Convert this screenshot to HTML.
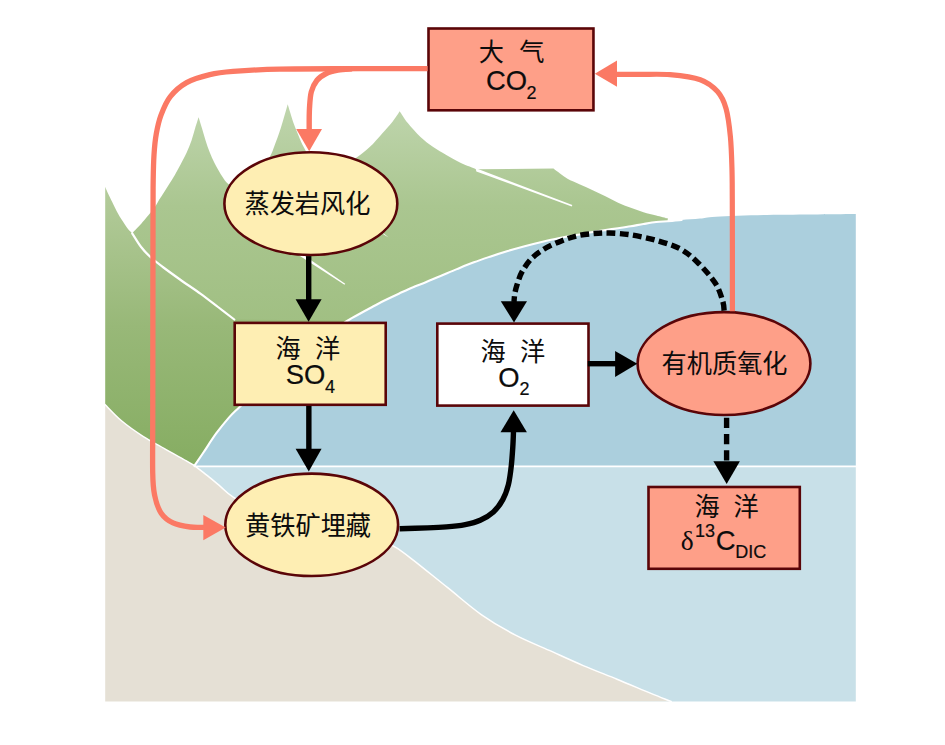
<!DOCTYPE html>
<html><head><meta charset="utf-8"><title>diagram</title>
<style>html,body{margin:0;padding:0;background:#fff;}body{width:945px;height:745px;overflow:hidden;font-family:"Liberation Sans",sans-serif;}svg{display:block;}</style>
</head><body>
<svg width="945" height="745" viewBox="0 0 945 745">
<defs>
<linearGradient id="mg1" gradientUnits="userSpaceOnUse" x1="0" y1="105" x2="0" y2="330"><stop offset="0" stop-color="#bfd5ad"/><stop offset="0.45" stop-color="#aac690"/><stop offset="1" stop-color="#a0bf82"/></linearGradient>
<linearGradient id="mg2" gradientUnits="userSpaceOnUse" x1="0" y1="186" x2="0" y2="466"><stop offset="0" stop-color="#b4cc9c"/><stop offset="0.5" stop-color="#98b878"/><stop offset="1" stop-color="#86ad62"/></linearGradient>
</defs>
<rect width="945" height="745" fill="#fff"/>
<g>
<path d="M857.8,214.1 C851.1,214.2 832.9,214.3 817.8,214.4 C802.7,214.5 784,214.5 767,214.9 C750,215.3 727.2,216.1 716,216.7 C704.8,217.3 705.7,218 700,218.6 C694.3,219.2 687,219.6 681.6,220 C676.2,220.4 671.8,220.9 667.6,221.2 C663.4,221.5 660.2,221.5 656.2,222 C652.2,222.5 647.7,223.3 643.5,224 C639.3,224.7 635,225.6 630.8,226.3 C626.6,227 622.3,227.6 618.1,228.2 C613.9,228.8 609.6,229.5 605.4,230.1 C601.2,230.7 596.9,231.3 592.7,232 C588.5,232.7 583.4,233.9 580,234.5 C576.6,235.1 575.7,235.2 572.1,235.8 C568.5,236.4 563.6,237.3 558.5,238.3 C553.4,239.3 547.2,240.7 541.6,242 C536,243.3 530.4,244.7 524.7,246.2 C519.1,247.7 513.4,249.3 507.7,251 C502,252.7 496.4,254.5 490.8,256.4 C485.2,258.3 479.5,260.2 473.9,262.3 C468.2,264.4 462.5,266.8 456.9,269.1 C451.2,271.4 445.1,274.1 440,276.2 C434.9,278.3 430.9,280.1 426.3,282 C421.7,283.9 417.1,285.6 412.5,287.5 C407.9,289.4 403.4,291.6 398.8,293.7 C394.2,295.8 389.6,298 385,300.3 C380.4,302.6 375.9,305.1 371.3,307.5 C366.7,309.9 361.4,312.8 357.5,315 C353.6,317.2 354.5,316.3 347.9,320.5 C341.3,324.7 328,332.9 318,340 C308,347.1 297.3,355.3 288,363 C278.7,370.7 270.1,378.7 262,386 C253.9,393.3 245.1,401.6 239.6,406.9 C234.1,412.2 232.8,413.1 228.9,417.6 C225,422.1 220.3,427.8 216,433.7 C211.7,439.6 206.7,447.7 203.1,453 C199.5,458.3 195.9,463.6 194.5,465.7 L194.5,466.3 L857.8,466.3 Z" fill="#abcfdd"/>
<path d="M192.5,466.3 L857.8,466.3 L857.8,703.6 L105.2,703.6 Z" fill="#c8e0e8"/>
<path d="M477,169.3 L553.5,168.6 C554.6,169.4 557.7,171.9 560,173.6 C562.3,175.3 564.2,177 567.5,178.8 C570.8,180.6 575.8,182.6 580,184.5 C584.2,186.4 588.5,188.2 592.7,190.2 C596.9,192.2 601.2,194.2 605.4,196.3 C609.6,198.4 613.9,200.8 618.1,202.7 C622.3,204.6 626.6,206.2 630.8,207.8 C635,209.4 639.3,210.9 643.5,212.2 C647.7,213.5 652.2,214.4 656.2,215.4 C660.2,216.4 665.9,217.8 667.8,218.3 L620,221 L560,226 L470,200 Z" fill="url(#mg1)"/>
<path d="M132.2,233.3 C133.5,231.9 137.2,228.3 140.3,224.8 C143.4,221.3 148.1,215.6 150.7,212.5 C153.2,209.4 154.2,208.1 155.6,206 C157,203.9 157.8,201.9 159,200 C160.2,198.1 161,197 162.6,194.5 C164.2,192 166.6,188.1 168.6,184.9 C170.6,181.7 172.7,178.6 174.7,175.2 C176.7,171.8 178.7,168.1 180.7,164.3 C182.7,160.5 185,156.3 186.8,152.3 C188.6,148.3 190.2,144.2 191.6,140.2 C193,136.2 194,131.9 195.2,128.1 C196.4,124.3 198,119.1 198.6,117.3 C199.2,119.1 200.8,124.3 201.9,128.1 C203.1,131.9 204.2,136.2 205.5,140.2 C206.8,144.2 208.2,148.5 209.7,152.3 C211.2,156.1 212.7,159.5 214.5,163.1 C216.3,166.7 218.6,170.8 220.6,174 C222.6,177.2 224.5,180.3 226.6,182.5 C228.7,184.7 231.9,186.2 233,187 C235,186 240.8,183.8 245,181 C249.2,178.2 253.9,173.9 258,170 C262.1,166.1 266.7,161.3 269.4,157.3 C272.1,153.3 272.5,150.8 274.4,145.9 C276.3,141 278.6,135 280.8,128.1 C283,121.2 286.6,108.3 287.7,104.3 C288.7,107.4 291.7,117.8 293.5,123 C295.3,128.2 296.9,131.7 298.6,135.7 C300.3,139.7 301.5,143 303.7,147.1 C305.9,151.2 308.3,156.2 312,160 C315.7,163.8 321.3,168.7 326,170 C330.7,171.3 337.7,168.3 340,168 C342.8,166.2 352.1,160.8 357,157.3 C361.9,153.8 365.5,151.1 369.7,147.1 C373.9,143.1 378.6,137.4 382.4,133.2 C386.2,129 389.6,125.4 392.5,121.7 C395.4,118 398.5,113 399.7,111.2 C401.1,113.2 404.3,118.7 407.8,123 C411.3,127.3 416.3,133 420.5,137 C424.7,141 429,144.1 433.2,147.1 C437.4,150.1 441.4,152.2 445.9,154.8 C450.4,157.4 455.2,160.4 460.4,162.8 C465.6,165.2 474.2,168.4 477,169.5 C484.2,172.2 504.3,180 520,186 C535.7,192 554.6,200.8 571.3,205.6 C588,210.4 603.9,212.9 620,215 C636.1,217.1 659.8,217.8 667.8,218.3 L667.6,221.2 C665.7,221.3 660.2,221.5 656.2,222 C652.2,222.5 647.7,223.3 643.5,224 C639.3,224.7 635,225.6 630.8,226.3 C626.6,227 622.3,227.6 618.1,228.2 C613.9,228.8 609.6,229.5 605.4,230.1 C601.2,230.7 596.9,231.3 592.7,232 C588.5,232.7 583.4,233.9 580,234.5 C576.6,235.1 575.7,235.2 572.1,235.8 C568.5,236.4 563.6,237.3 558.5,238.3 C553.4,239.3 547.2,240.7 541.6,242 C536,243.3 530.4,244.7 524.7,246.2 C519.1,247.7 513.4,249.3 507.7,251 C502,252.7 496.4,254.5 490.8,256.4 C485.2,258.3 479.5,260.2 473.9,262.3 C468.2,264.4 462.5,266.8 456.9,269.1 C451.2,271.4 445.1,274.1 440,276.2 C434.9,278.3 430.9,280.1 426.3,282 C421.7,283.9 417.1,285.6 412.5,287.5 C407.9,289.4 403.4,291.6 398.8,293.7 C394.2,295.8 389.6,298 385,300.3 C380.4,302.6 375.9,305.1 371.3,307.5 C366.7,309.9 361.4,312.8 357.5,315 C353.6,317.2 354.5,316.3 347.9,320.5 C341.3,324.7 328,332.9 318,340 C308,347.1 297.3,355.3 288,363 C278.7,370.7 270.1,378.7 262,386 C253.9,393.3 245.1,401.6 239.6,406.9 C234.1,412.2 232.8,413.1 228.9,417.6 C225,422.1 220.3,427.8 216,433.7 C211.7,439.6 206.7,447.7 203.1,453 C199.5,458.3 195.9,463.6 194.5,465.7 L104.2,470 L104.2,233 Z" fill="url(#mg1)"/>
<path d="M104.2,185 C104.4,185.4 103.9,184.4 105.2,187.2 C106.5,190 109.9,197.3 112.1,201.7 C114.2,206.1 116.1,210.2 118.1,213.8 C120.1,217.4 122.5,220.9 124.2,223.5 C125.9,226.1 126.9,227.7 128.2,229.3 C129.5,230.9 131.5,232.6 132.2,233.3 C133.7,235.6 138,243 141.1,247 C144.2,251 147.1,254 150.7,257.3 C154.3,260.6 157.9,263.3 162.8,267 C167.7,270.7 173.7,275 180,279.5 C186.3,284 194.4,289.2 200.7,293.8 C207,298.4 212.4,302.7 218,307 C223.6,311.3 231.6,317.4 234.3,319.5 L347.9,320.5 C342.9,323.8 328,332.9 318,340 C308,347.1 297.3,355.3 288,363 C278.7,370.7 270.1,378.7 262,386 C253.9,393.3 245.1,401.6 239.6,406.9 C234.1,412.2 232.8,413.1 228.9,417.6 C225,422.1 220.3,427.8 216,433.7 C211.7,439.6 206.7,447.7 203.1,453 C199.5,458.3 195.9,463.6 194.5,465.7 L104.2,470 Z" fill="url(#mg2)"/>
<path d="M104.2,403.6 C104.4,403.8 102.3,401.8 105.2,404.7 C108.1,407.6 115.2,415.5 121.5,420.8 C127.8,426.1 135.8,431.7 143,436.3 C150.2,440.9 157.2,444.6 164.4,448.7 C171.6,452.8 180.9,457.8 185.9,460.6 C190.9,463.4 193.1,464.9 194.5,465.7 C196.7,467.4 203.1,472.2 207.4,475.6 C211.7,479 216,482.7 220.3,486.3 C224.6,489.9 226.2,492.8 233.2,497.1 C240.1,501.4 250.9,508 262,512 C273.1,516 287,518.3 300,521 C313,523.7 328,525.5 340,528 C352,530.5 362.8,532.8 372,536 C381.2,539.2 388.2,543 395.2,547.1 C402.2,551.2 405.1,553.8 413.9,560.6 C422.6,567.4 436.4,578.7 447.7,587.7 C459,596.7 470.3,606.9 481.6,614.8 C492.9,622.7 504.2,629.2 515.5,635.1 C526.8,641 538,645.3 549.3,650.4 C560.6,655.5 571.9,660.8 583.2,665.6 C594.5,670.4 605.7,674.6 617,679.2 C628.3,683.8 641.9,689.7 650.9,693.4 C659.9,697.1 667.8,700.1 671.2,701.5 L104.2,703.6 Z" fill="#e5e0d5"/>
<g fill="none" stroke="#fff" stroke-width="1.6" stroke-linecap="round">
<path d="M194.5,466.3 L857.8,466.3" stroke-width="1.7"/>
<path d="M681.6,220 C679.3,220.2 671.8,220.9 667.6,221.2 C663.4,221.5 660.2,221.5 656.2,222 C652.2,222.5 647.7,223.3 643.5,224 C639.3,224.7 635,225.6 630.8,226.3 C626.6,227 622.3,227.6 618.1,228.2 C613.9,228.8 609.6,229.5 605.4,230.1 C601.2,230.7 596.9,231.3 592.7,232 C588.5,232.7 583.4,233.9 580,234.5 C576.6,235.1 575.7,235.2 572.1,235.8 C568.5,236.4 563.6,237.3 558.5,238.3 C553.4,239.3 547.2,240.7 541.6,242 C536,243.3 530.4,244.7 524.7,246.2 C519.1,247.7 513.4,249.3 507.7,251 C502,252.7 496.4,254.5 490.8,256.4 C485.2,258.3 479.5,260.2 473.9,262.3 C468.2,264.4 462.5,266.8 456.9,269.1 C451.2,271.4 445.1,274.1 440,276.2 C434.9,278.3 430.9,280.1 426.3,282 C421.7,283.9 417.1,285.6 412.5,287.5 C407.9,289.4 403.4,291.6 398.8,293.7 C394.2,295.8 389.6,298 385,300.3 C380.4,302.6 375.9,305.1 371.3,307.5 C366.7,309.9 361.4,312.8 357.5,315 C353.6,317.2 354.5,316.3 347.9,320.5 C341.3,324.7 328,332.9 318,340 C308,347.1 297.3,355.3 288,363 C278.7,370.7 270.1,378.7 262,386 C253.9,393.3 245.1,401.6 239.6,406.9 C234.1,412.2 232.8,413.1 228.9,417.6 C225,422.1 220.3,427.8 216,433.7 C211.7,439.6 206.7,447.7 203.1,453 C199.5,458.3 195.9,463.6 194.5,465.7" stroke-width="2.1"/>
<path d="M132.2,233.3 C133.7,235.6 138,243 141.1,247 C144.2,251 147.1,254 150.7,257.3 C154.3,260.6 157.9,263.3 162.8,267 C167.7,270.7 173.7,275 180,279.5 C186.3,284 194.4,289.2 200.7,293.8 C207,298.4 212.4,302.7 218,307 C223.6,311.3 231.6,317.4 234.3,319.5" stroke-width="2.2"/>
<path d="M104.2,403.6 C104.4,403.8 102.3,401.8 105.2,404.7 C108.1,407.6 115.2,415.5 121.5,420.8 C127.8,426.1 135.8,431.7 143,436.3 C150.2,440.9 157.2,444.6 164.4,448.7 C171.6,452.8 180.9,457.8 185.9,460.6 C190.9,463.4 193.1,464.9 194.5,465.7" stroke-width="1.5"/>
<path d="M194.5,465.7 C196.7,467.4 203.1,472.2 207.4,475.6 C211.7,479 216,482.7 220.3,486.3 C224.6,489.9 226.2,492.8 233.2,497.1 C240.1,501.4 250.9,508 262,512 C273.1,516 287,518.3 300,521 C313,523.7 328,525.5 340,528 C352,530.5 362.8,532.8 372,536 C381.2,539.2 388.2,543 395.2,547.1 C402.2,551.2 405.1,553.8 413.9,560.6 C422.6,567.4 436.4,578.7 447.7,587.7 C459,596.7 470.3,606.9 481.6,614.8 C492.9,622.7 504.2,629.2 515.5,635.1 C526.8,641 538,645.3 549.3,650.4 C560.6,655.5 571.9,660.8 583.2,665.6 C594.5,670.4 605.7,674.6 617,679.2 C628.3,683.8 641.9,689.7 650.9,693.4 C659.9,697.1 667.8,700.1 671.2,701.5" stroke-width="1.5"/>
</g>
<g fill="#fff">
<path d="M475.4,167.9 L572.3,205.1 L571.7,206.6 L476.4,171.4 Z"/>
<path d="M300,252.6 L345.2,283.7 L344.5,284.8 L298.8,255.2 Z"/>
<path d="M382.6,232.6 L388.6,237.6 L383.6,234.6 Z"/>
</g>
</g>
<path d="M0,0 H105.2 V701.6 H855.8 V0 H945 V745 H0 Z" fill="#fff"/>
<rect x="428.50" y="28.50" width="164.95" height="81.80" fill="#fe9f88" stroke="#5a0508" stroke-width="2.60"/>
<ellipse cx="310.85" cy="203.65" rx="86.45" ry="51.35" fill="#feeeb3" stroke="#5a0508" stroke-width="2.60"/>
<rect x="234.70" y="322.90" width="151.00" height="81.90" fill="#feeeb3" stroke="#5a0508" stroke-width="2.60"/>
<rect x="437.30" y="323.60" width="151.20" height="82.00" fill="#fff" stroke="#5a0508" stroke-width="2.60"/>
<ellipse cx="724.00" cy="363.55" rx="86.40" ry="51.45" fill="#fe9f88" stroke="#5a0508" stroke-width="2.60"/>
<ellipse cx="311.70" cy="524.80" rx="86.40" ry="51.20" fill="#feeeb3" stroke="#5a0508" stroke-width="2.60"/>
<rect x="648.50" y="487.00" width="151.30" height="81.80" fill="#fe9f88" stroke="#5a0508" stroke-width="2.60"/>
<g fill="none" stroke="#fb7964" stroke-width="5.3">
<path d="M427.6,68.7 C416.3,68.7 384.6,68.6 360,68.7 C335.4,68.8 300.8,68.6 279.7,69.1 C258.6,69.5 244.8,70.5 233.1,71.4 C221.4,72.3 217.6,72.7 209.8,74.6 C202.1,76.5 193.2,78.9 186.6,82.6 C180,86.3 174.6,91.2 170.3,96.6 C166,102 163.3,109 161,115.2 C158.7,121.4 157.5,127.2 156.3,133.8 C155.1,140.4 154.5,147.1 154,154.8 C153.5,162.5 153.4,167.5 153.2,180 C153,192.5 153.1,193.3 153,230 C152.9,266.7 152.9,359.6 152.8,400 C152.8,440.4 152.4,456.4 152.7,472.4 C153,488.4 153.4,489.2 154.8,496 C156.2,502.8 158.2,508.7 161.2,513.2 C164.2,517.7 168.2,520.6 173,522.9 C177.8,525.2 185,526.3 190.2,527 C195.4,527.7 201.7,527.2 204,527.3"/>
<path d="M352,68.9 C349.7,69.1 342.3,69.4 338,70.2 C333.7,71 329.8,71.8 326.3,73.5 C322.8,75.2 319.5,77.2 317,80.3 C314.5,83.4 312.6,87.2 311.3,91.9 C310.1,96.6 309.9,101.9 309.5,108.2 C309.1,114.5 309.2,126.4 309.2,130" stroke-width="5.4"/>
<path d="M732.4,311.2 C732.4,301 732.4,268.5 732.4,250 C732.4,231.5 732.4,213.3 732.3,200 C732.2,186.7 732.3,180.6 732,170 C731.7,159.4 731.4,146.9 730.4,136.7 C729.4,126.5 728.2,116.2 726.1,108.7 C724,101.2 721.8,96.4 717.5,91.6 C713.2,86.8 708.2,82.5 700.3,79.7 C692.4,76.9 680,75.6 670,74.7 C660,73.8 649,74.5 640,74.4 C631,74.4 620,74.4 616,74.4" stroke-width="5.2"/>
</g>
<g fill="#fb7964">
<path d="M296.2,129 L322,129 L309.2,151.2 Z"/>
<path d="M203.3,514.9 L203.3,540.2 L225.7,527.5 Z"/>
<path d="M617,60.4 L617,86.8 L594.8,73.7 Z"/>
</g>
<g fill="none" stroke="#000" stroke-width="5.4">
<path d="M308.7,256.1 L308.7,300"/>
<path d="M308.85,405.9 L308.85,450"/>
<path d="M587.8,363.7 L616,363.7"/>
<path d="M399.6,528.8 C404.3,528.6 419.8,528.2 427.6,527.9 C435.4,527.6 440.1,527.4 446.4,526.9 C452.7,526.4 459.6,525.7 465.2,524.6 C470.8,523.5 475.5,522.4 480.2,520.3 C484.9,518.2 489.6,515.3 493.4,511.9 C497.2,508.4 500.3,504.2 502.8,499.6 C505.3,495.1 507,490.2 508.4,484.6 C509.8,479 510.6,472.1 511.3,465.8 C512,459.5 512.4,452.8 512.8,447 C513.2,441.2 513.4,433.7 513.5,431"/>
<path d="M514,302 C514.1,300.6 514.3,296.7 514.8,293.8 C515.3,290.9 515.8,288.6 517,284.9 C518.2,281.2 519.6,276.1 522.1,271.7 C524.6,267.3 527.8,262.3 531.7,258.4 C535.7,254.4 540.8,250.9 545.8,248 C550.8,245.1 556.8,242.7 562,240.7 C567.2,238.7 571.6,237.1 576.8,235.9 C582,234.7 587.6,234.1 593,233.6 C598.4,233.1 602.8,232.8 609.2,233 C615.6,233.2 623.4,233.7 631.3,234.9 C639.2,236.2 648.7,238.2 656.8,240.5 C664.9,242.8 672.9,245 679.7,248.6 C686.5,252.2 691.5,256.5 697.4,262.2 C703.3,267.9 711,276.6 715.2,283 C719.4,289.4 721.1,296 722.6,300.7 C724.1,305.4 723.9,309.4 724.2,311.2" stroke-dasharray="8.8 4.4" stroke-dashoffset="3"/>
<path d="M726.6,417.7 L726.6,462" stroke-dasharray="10.3 6"/>
</g>
<g fill="#000">
<path d="M295.6,299.3 L321.6,299.3 L308.6,321.8 Z"/>
<path d="M295.6,448.7 L321.6,448.7 L308.8,471.5 Z"/>
<path d="M615.1,350.9 L615.1,376.9 L637.3,363.7 Z"/>
<path d="M500.5,432.3 L526.9,432.3 L513.7,410.2 Z"/>
<path d="M500.8,301.2 L527,301.2 L514,322.6 Z"/>
<path d="M713.4,461.2 L739.9,461.2 L726.65,484.1 Z"/>
</g>
<g fill="#0c0c0c" font-family="'Liberation Sans', 'Noto Sans CJK SC', sans-serif" font-size="25.2">
<text transform="translate(244.50 212.97) scale(1 1.04)">蒸发岩风化</text>
<text transform="translate(661.60 372.57) scale(1 1.04)">有机质氧化</text>
<text transform="translate(245.10 535.17) scale(1 1.04)">黄铁矿埋藏</text>
<text x="478.80" y="61.03">大</text><text x="519.20" y="61.03">气</text>
<text transform="translate(275.50 357.63) scale(1 1.016)">海</text><text transform="translate(315.00 357.63) scale(1 1.016)">洋</text>
<text transform="translate(480.50 360.53) scale(1 1.016)">海</text><text transform="translate(519.90 360.53) scale(1 1.016)">洋</text>
<text transform="translate(694.40 515.93) scale(1 1.016)">海</text><text transform="translate(733.60 515.93) scale(1 1.016)">洋</text>
</g>
<g fill="#0c0c0c" stroke="#0c0c0c" stroke-width="0.2">
<text transform="translate(485.90 90.20) scale(1 1.030)" font-family="'Liberation Sans', sans-serif" font-size="27.40">CO</text>
<text transform="translate(526.40 98.60) scale(1 1.030)" font-family="'Liberation Sans', sans-serif" font-size="18.00">2</text>
<text transform="translate(285.80 384.20) scale(1 1.030)" font-family="'Liberation Sans', sans-serif" font-size="27.40">SO</text>
<text transform="translate(325.10 392.90) scale(1 1.030)" font-family="'Liberation Sans', sans-serif" font-size="18.00">4</text>
<text transform="translate(498.30 387.00) scale(1 1.030)" font-family="'Liberation Sans', sans-serif" font-size="27.40">O</text>
<text transform="translate(519.50 395.30) scale(1 1.030)" font-family="'Liberation Sans', sans-serif" font-size="18.00">2</text>
<text transform="translate(680.65 549.60) scale(1 1.030)" font-family="'Liberation Serif', serif" font-size="27.50" stroke="none">δ</text>
<text transform="translate(695.10 536.90) scale(1 1.030)" font-family="'Liberation Sans', sans-serif" font-size="18.00">13</text>
<text transform="translate(715.70 549.70) scale(1 1.030)" font-family="'Liberation Sans', sans-serif" font-size="27.40">C</text>
<text transform="translate(735.20 557.60) scale(1 1.030)" font-family="'Liberation Sans', sans-serif" font-size="18.00">DIC</text>
</g>
</svg>
</body></html>
